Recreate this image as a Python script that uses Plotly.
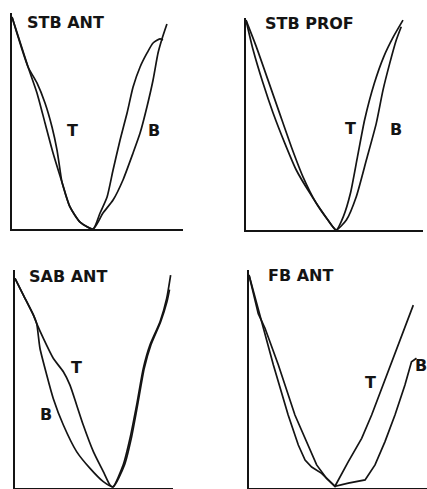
import plotly.graph_objects as go

# ---- STB ANT ----
stb_ant_t_x = [0, 9.4, 14.6, 19.3, 23.4, 26.3, 28.1, 29.2, 33.9, 39.8, 47.4,
               51.5, 55.6, 59.1, 63.2, 67.3, 70.8, 74.9, 79.0, 82.5, 86.5, 88.3]
stb_ant_t_y = [98.1, 75.0, 67.6, 58.3, 47.2, 36.6, 27.3, 21.8, 10.2, 3.2, 0,
               7.4, 14.8, 27.3, 41.2, 53.7, 65.7, 75.0, 81.5, 86.1, 88.0, 87.5]
stb_ant_b_x = [0, 9.4, 14.6, 19.3, 24.0, 29.2, 33.9, 39.8, 47.4,
               53.2, 59.1, 64.9, 70.8, 74.9, 78.9, 82.5, 85.4, 87.7, 90.6]
stb_ant_b_y = [98.1, 75.0, 63.0, 49.1, 35.2, 21.8, 10.2, 3.2, 0,
               7.4, 13.4, 22.7, 35.2, 44.4, 56.5, 69.0, 81.5, 88.0, 94.9]

# ---- STB PROF ----
stb_prof_t_x = [0, 5.8, 12.4, 19.0, 25.6, 32.2, 39.7, 46.3, 51.0,
                55.0, 59.0, 63.0, 67.0, 72.5, 77.8, 83.3, 88.7]
stb_prof_t_y = [99.0, 86.5, 70.8, 55.0, 39.3, 25.1, 12.6, 4.7, 0,
                6.3, 17.3, 34.6, 51.9, 69.2, 81.7, 91.2, 99.0]
stb_prof_b_x = [0, 4.0, 9.6, 15.3, 21.9, 28.4, 36.0, 43.5, 49.1, 51.0,
                56.7, 62.3, 68.0, 73.6, 77.4, 81.2, 84.9, 87.7]
stb_prof_b_y = [99.0, 85.0, 69.3, 55.2, 41.0, 28.3, 17.5, 8.0, 1.4, 0,
                4.7, 15.7, 33.0, 50.3, 66.0, 78.6, 89.6, 95.9]

# ---- SAB ANT ----
sab_ant_t_x = [0, 5.3, 11.6, 13.7, 17.9, 24.2, 30.6, 34.8, 39.0, 43.2, 49.6, 55.9, 60.1, 62.0,
               68.5, 72.8, 77.0, 81.2, 85.4, 91.8, 96.0, 98.5]
sab_ant_t_y = [96.2, 88.5, 79.4, 75.5, 68.7, 59.5, 53.3, 47.2, 38.1, 28.9, 16.7, 7.5, 1.4, 0.5,
               10.6, 22.8, 38.1, 54.9, 65.6, 76.3, 87.0, 97.7]
sab_ant_b_x = [0, 5.3, 11.6, 13.7, 15.8, 20.1, 24.2, 30.6, 39.0, 47.5, 55.9, 62.0,
               69.3, 73.6, 77.6, 81.8, 86.0, 92.2, 96.2, 97.8]
sab_ant_b_y = [96.2, 88.5, 79.4, 75.5, 64.1, 51.8, 41.1, 28.9, 16.7, 9.0, 2.9, 0.5,
               10.6, 22.8, 38.1, 54.9, 65.6, 76.3, 85.5, 91.0]

# ---- FB ANT ----
fb_ant_t_x = [0, 5.2, 9.0, 16.5, 25.8, 33.3, 38.0, 43.6, 48.3,
              55.8, 63.3, 68.9, 74.5, 80.1, 85.8, 92.3]
fb_ant_t_y = [97.7, 80.0, 73.3, 56.4, 33.5, 19.7, 10.6, 4.4, 0.8,
              12.1, 22.8, 33.5, 45.7, 57.9, 70.2, 83.9]
fb_ant_b_x = [0, 7.1, 13.7, 22.0, 27.7, 31.5, 35.2, 40.8, 48.3,
              55.8, 65.2, 70.8, 76.4, 82.0, 87.6, 91.3, 94.1]
fb_ant_b_y = [97.7, 76.3, 56.4, 33.5, 19.7, 12.8, 9.6, 6.7, 0.8,
              2.2, 3.7, 10.6, 21.3, 33.5, 47.2, 57.9, 59.5]

panel_titles = ["STB ANT", "STB PROF", "SAB ANT", "FB ANT"]
curve_labels = ["T", "B"]

# label anchor points in each panel's own units: (title, T, B)
label_points = [
    [(7.6, 95.4), (35.1, 45.8), (83.0, 45.4)],
    [(9.6, 97.6), (59.0, 48.1), (84.7, 47.2)],
    [(7.6, 96.8), (39.2, 55.5), (19.6, 33.5)],
    [(9.6, 97.7), (68.0, 48.2), (96.6, 56.0)],
]

panels = [
    (stb_ant_t_x, stb_ant_t_y, stb_ant_b_x, stb_ant_b_y, "spline"),
    (stb_prof_t_x, stb_prof_t_y, stb_prof_b_x, stb_prof_b_y, "spline"),
    (sab_ant_t_x, sab_ant_t_y, sab_ant_b_x, sab_ant_b_y, "spline"),
    (fb_ant_t_x, fb_ant_t_y, fb_ant_b_x, fb_ant_b_y, "linear"),
]

W, H = 427, 489
# plot-area boxes: (left, right, top, bottom) in page pixels
boxes = [
    (12, 183, 13, 229),
    (246, 423, 18, 230),
    (15, 173, 270, 488),
    (249, 427, 270, 488),
]

INK = "#141414"
fig = go.Figure()
layout_axes = {}
annotations = []
font = dict(family="DejaVu Sans", size=16, color=INK, weight="bold")

for i, ((tx, ty, bx, by, shape), box, pts, title) in enumerate(
        zip(panels, boxes, label_points, panel_titles)):
    n = "" if i == 0 else str(i + 1)
    xa, ya = "x" + n, "y" + n
    for xs, ys in ((tx, ty), (bx, by)):
        fig.add_trace(go.Scatter(
            x=xs, y=ys, mode="lines", xaxis=xa, yaxis=ya,
            line=dict(color=INK, width=1.7, shape=shape, smoothing=0.6),
            showlegend=False, hoverinfo="skip", cliponaxis=False))
    l, r, t, b = box
    axis_style = dict(showline=True, linecolor=INK, linewidth=2,
                      showgrid=False, zeroline=False, showticklabels=False,
                      ticks="", range=[0, 100], fixedrange=True)
    layout_axes["xaxis" + n] = dict(axis_style, domain=[l / W, r / W], anchor=ya)
    layout_axes["yaxis" + n] = dict(axis_style, domain=[1 - b / H, 1 - t / H], anchor=xa)
    (ttx, tty), (lx1, ly1), (lx2, ly2) = pts
    annotations.append(dict(x=ttx, y=tty, xref=xa, yref=ya, text=title,
                            showarrow=False, xanchor="left", yanchor="middle", font=font))
    for (lx, ly), txt in zip(((lx1, ly1), (lx2, ly2)), curve_labels):
        annotations.append(dict(x=lx, y=ly, xref=xa, yref=ya, text=txt,
                                showarrow=False, xanchor="center", yanchor="middle", font=font))

fig.update_layout(
    width=W, height=H, margin=dict(l=0, r=0, t=0, b=0),
    paper_bgcolor="white", plot_bgcolor="white",
    annotations=annotations, **layout_axes)

fig.write_html("out.html", config={"displayModeBar": False})
